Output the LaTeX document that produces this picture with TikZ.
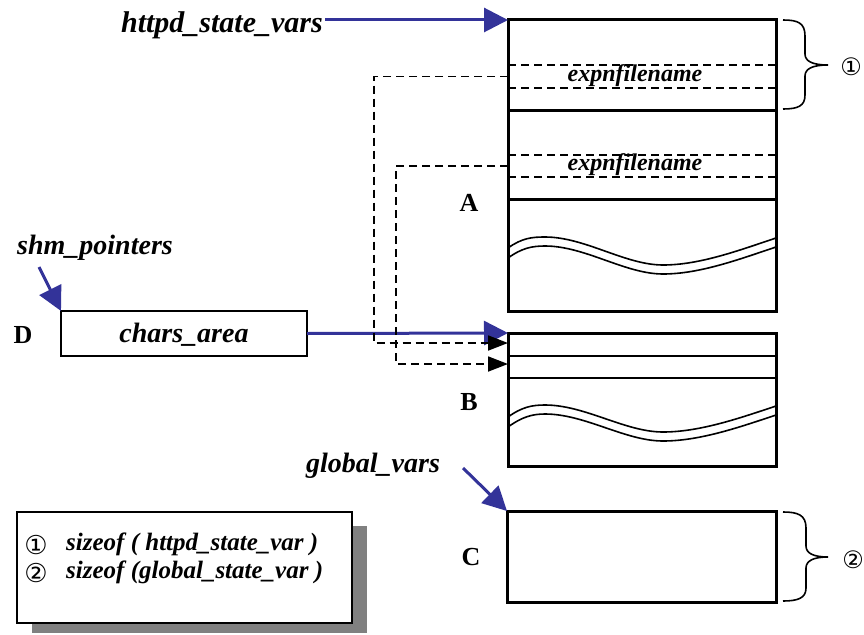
\documentclass[tikz,border=0pt]{standalone}
\usepackage{fontspec}
\setmainfont{Liberation Serif}
\newfontfamily\circfont{DejaVu Sans}
\usetikzlibrary{arrows.meta}
\definecolor{arrowblue}{RGB}{51,51,153}
\definecolor{shadowgray}{RGB}{128,128,128}
\tikzset{
  lab/.style={font=\fontsize{28}{30}\selectfont\bfseries\itshape, inner sep=0pt},
  biglab/.style={font=\fontsize{30}{32}\selectfont\bfseries\itshape, inner sep=0pt},
  fieldlab/.style={font=\fontsize{24}{26}\selectfont\bfseries\itshape, inner sep=0pt},
  leglab/.style={font=\fontsize{25}{27}\selectfont\bfseries\itshape, inner sep=0pt, anchor=west},
  letter/.style={font=\fontsize{26}{28}\selectfont\bfseries, inner sep=0pt},
  circnum/.style={font=\circfont\fontsize{24}{26}\selectfont, inner sep=0pt},
  legcirc/.style={font=\circfont\fontsize{26}{28}\selectfont, inner sep=0pt},
  membox/.style={draw, line width=3pt, inner sep=0pt, outer sep=0pt},
  thinbox/.style={draw, line width=1.5pt, inner sep=0pt, outer sep=0pt},
  bluearrow/.style={draw=arrowblue, line width=3pt, -{Triangle[length=24pt,width=24pt]}},
  dashconn/.style={line width=1.8pt, dash pattern=on 8pt off 5pt, -{Triangle[length=20pt,width=15pt]}},
  field/.style={line width=1.8pt, dash pattern=on 8pt off 5pt},
  wave/.style={line width=1.6pt},
  bracepath/.style={line width=1.6pt},
}
\begin{document}
\begin{tikzpicture}[x=1pt,y=-1pt]
\useasboundingbox (0,0) rectangle (864,634);

% memory boxes
\node[membox, minimum width=268pt, minimum height=291pt] (A) at (642,165.5) {};
\node[membox, minimum width=268pt, minimum height=133pt] (B) at (642,399.5) {};
\node[membox, minimum width=269pt, minimum height=91pt] (C) at (641.5,556.5) {};

% inner separators of A
\draw[line width=3pt] (A.west |- 0,110) -- (A.east |- 0,110);
\draw[line width=3pt] (A.west |- 0,199) -- (A.east |- 0,199);
\draw[field] (A.west |- 0,65) -- (A.east |- 0,65);
\draw[field] (A.west |- 0,88) -- (A.east |- 0,88);
\draw[field] (A.west |- 0,155) -- (A.east |- 0,155);
\draw[field] (A.west |- 0,177) -- (A.east |- 0,177);
\node[fieldlab] (f1) at (635,76) {expnfilename};
\node[fieldlab] (f2) at (635,165) {expnfilename};

% waves in A
\draw[wave] (508,248) .. controls (522,238) and (532,237) .. (545,237)
  .. controls (585,237) and (625,265) .. (663,265)
  .. controls (700,265) and (740,250) .. (776,238);
\draw[wave] (508,258) .. controls (522,248) and (532,246) .. (545,246)
  .. controls (585,246) and (625,274) .. (663,274)
  .. controls (700,274) and (740,259) .. (776,247);

% inner lines of B
\draw[line width=1.6pt] (B.west |- 0,356) -- (B.east |- 0,356);
\draw[line width=1.6pt] (B.west |- 0,378) -- (B.east |- 0,378);
% waves in B
\draw[wave] (508,417) .. controls (522,407) and (532,405) .. (545,405)
  .. controls (585,405) and (625,432) .. (663,432)
  .. controls (700,432) and (740,418) .. (776,406);
\draw[wave] (508,427) .. controls (522,417) and (532,414) .. (545,414)
  .. controls (585,414) and (625,441) .. (663,441)
  .. controls (700,441) and (740,427) .. (776,415);

% letters
\node[letter] (LA) at (469,203) {A};
\node[letter] (LB) at (469,402) {B};
\node[letter] (LC) at (471,557) {C};
\node[letter] (LD) at (23,335) {D};

% D box
\node[thinbox, minimum width=246pt, minimum height=45pt] (D) at (184,333.5) {};
\node[lab] (chars) at (184,335) {chars\_area};

% labels
\node[biglab, anchor=east] (httpd) at (323,25) {httpd\_state\_vars};
\node[lab] (shm) at (95,248) {shm\_pointers};
\node[lab] (glob) at (373,466) {global\_vars};
\coordinate (shmtail) at (39,267);
\coordinate (globtail) at (463,468);

% blue arrows
\draw[bluearrow] ([xshift=2pt]httpd.east |- A.north west) -- (A.north west);
\draw[bluearrow] (D.east) -- (B.north west);
\draw[bluearrow] (shmtail) -- (D.north west);
\draw[bluearrow] (globtail) -- (C.north west);

% dashed pointer connectors
\coordinate (e1) at (508,76.5);
\coordinate (e2) at (508,166);
\coordinate (b1) at (508,343);
\coordinate (b2) at (508,364);
\draw[dashconn] (e1) -- (374,76.5) |- (b1);
\draw[dashconn] (e2) -- (396,166) |- (b2);

% braces
\draw[bracepath] (783,20) .. controls (798,20) and (805,23) .. (805,36) -- (805,54)
  .. controls (805,61) and (812,65) .. (828,65)
  .. controls (812,65) and (805,69) .. (805,76) -- (805,95)
  .. controls (805,106) and (798,109) .. (783,109);
\node[circnum] (n1) at (851,67) {①};
\draw[bracepath] (783,512) .. controls (798,512) and (806,515) .. (806,528) -- (806,546)
  .. controls (806,553) and (813,557) .. (828,557)
  .. controls (813,557) and (806,561) .. (806,568) -- (806,588)
  .. controls (806,598) and (798,601) .. (783,601);
\node[circnum] (n2) at (853,560) {②};

% legend
\fill[shadowgray] (32,526) rectangle (367,633);
\node[thinbox, fill=white, minimum width=335pt, minimum height=111pt] (leg) at (184.5,567.5) {};
\node[legcirc] (l1) at (36,545) {①};
\node[legcirc] (l2) at (36,573) {②};
\node[leglab] (t1) at (66,544) {sizeof ( httpd\_state\_var )};
\node[leglab] (t2) at (66,572) {sizeof (global\_state\_var )};
\end{tikzpicture}
\end{document}
